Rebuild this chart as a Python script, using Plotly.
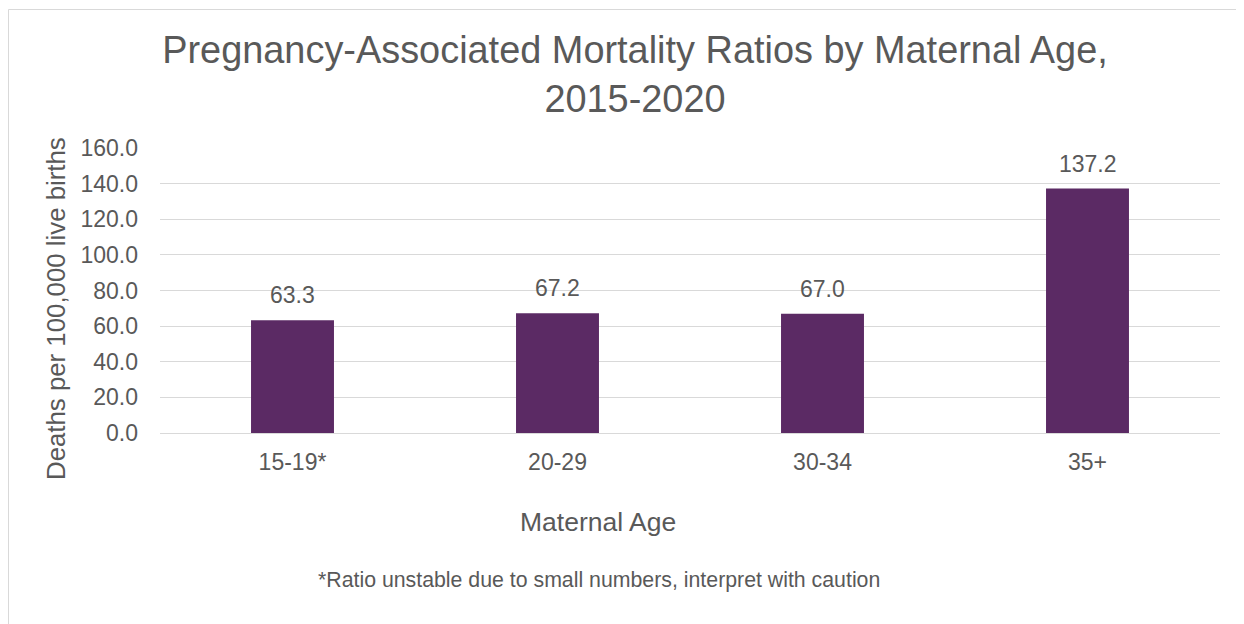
import plotly.graph_objects as go

categories = ["15-19*", "20-29", "30-34", "35+"]
values = [63.3, 67.2, 67.0, 137.2]
value_labels = ["63.3", "67.2", "67.0", "137.2"]
y_ticks = [0, 20, 40, 60, 80, 100, 120, 140, 160]

title_text = "Pregnancy-Associated Mortality Ratios by Maternal Age,<br>2015-2020"
x_title = "Maternal Age"
y_title = "Deaths per 100,000 live births"
footnote = "*Ratio unstable due to small numbers, interpret with caution"

TEXT = "#595959"
GRID = "#D9D9D9"
BAR = "#5B2A64"
FONT = "Liberation Sans, Arial, sans-serif"

OFF = 8  # page body margin
W, H = 1244 - OFF, 624 - OFF
L, T = 160 - OFF, 148 - OFF
R = W - (1220 - OFF)
B = H - (433 - OFF)
PW, PH = W - L - R, H - T - B


def px(xs):
    # screenshot x -> paper
    return (xs - OFF - L) / PW


def py(ys):
    # screenshot y -> paper
    return (H - B - (ys - OFF)) / PH


fig = go.Figure()
fig.add_trace(go.Bar(x=categories, y=values, marker=dict(color=BAR, line=dict(width=0)),
                     hoverinfo="x+y"))

annotations = []
for c, v, t in zip(categories, values, value_labels):
    annotations.append(dict(x=c, y=v, xref="x", yref="y", text=t, showarrow=False,
                            yanchor="middle", yshift=25,
                            font=dict(size=23, color=TEXT, family=FONT)))

annotations.append(dict(x=px(56), y=py(309), xref="paper", yref="paper", text=y_title,
                        textangle=-90, showarrow=False, xanchor="center", yanchor="middle",
                        font=dict(size=25.8, color=TEXT, family=FONT)))
annotations.append(dict(x=px(597.5), y=py(522), xref="paper", yref="paper", text=x_title,
                        showarrow=False, xanchor="center", yanchor="middle",
                        font=dict(size=26.5, color=TEXT, family=FONT)))
annotations.append(dict(x=px(599), y=py(580), xref="paper", yref="paper", text=footnote,
                        showarrow=False, xanchor="center", yanchor="middle",
                        font=dict(size=21.3, color=TEXT, family=FONT)))

border = dict(color=GRID, width=1)
fig.update_layout(
    width=W, height=H,
    margin=dict(l=L, r=R, t=T, b=B, autoexpand=False),
    paper_bgcolor="white", plot_bgcolor="white",
    title=dict(text=title_text, x=(635 - OFF) / W, xanchor="center", xref="container",
               y=1 - 55 / H, yanchor="top", yref="container",
               font=dict(size=37.9, color=TEXT, family=FONT)),
    bargap=0.687,
    showlegend=False,
    annotations=annotations,
    shapes=[
        dict(type="line", xref="paper", yref="paper", x0=px(8.5), x1=px(8.5),
             y0=py(640), y1=py(9.5), line=border, layer="below"),
        dict(type="line", xref="paper", yref="paper", x0=px(8.5), x1=px(1260),
             y0=py(9.5), y1=py(9.5), line=border, layer="below"),
    ],
    xaxis=dict(showgrid=False, showline=True, linecolor=GRID, linewidth=1,
               tickfont=dict(size=23, color=TEXT, family=FONT), ticks="",
               ticklabelstandoff=8),
    yaxis=dict(range=[0, 160], tickvals=y_ticks, tickformat=".1f",
               showgrid=True, gridcolor=GRID, gridwidth=1, zeroline=False,
               showline=False, ticks="", ticklabelstandoff=21,
               tickfont=dict(size=23, color=TEXT, family=FONT)),
)

fig.write_html("out.html")
